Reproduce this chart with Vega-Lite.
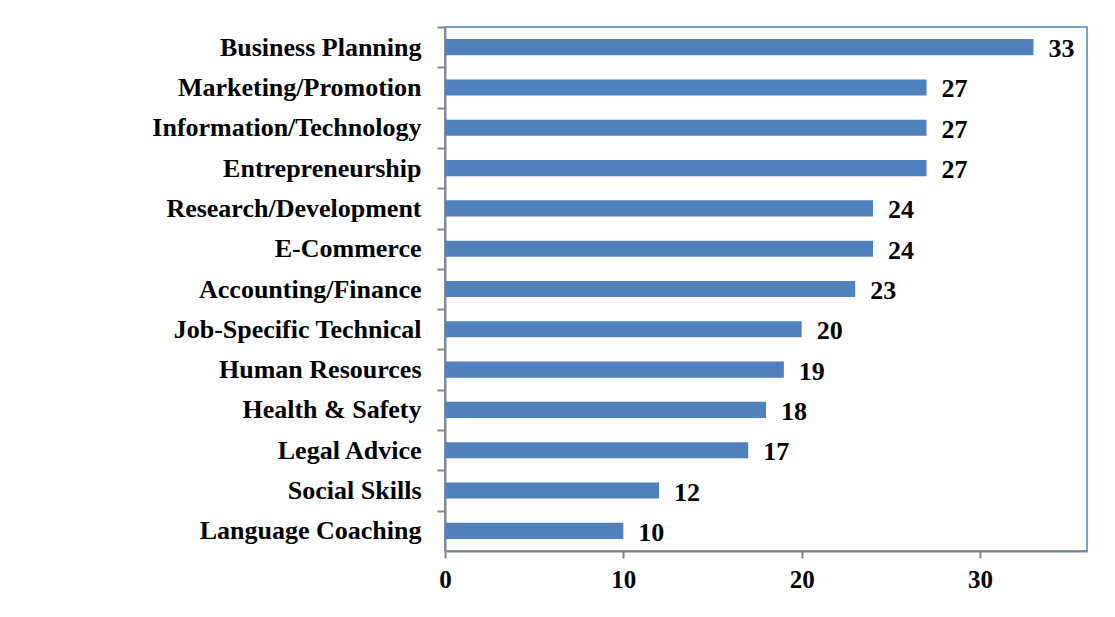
{
  "$schema": "https://vega.github.io/schema/vega-lite/v6.json",
  "autosize": "none",
  "padding": {"left": 445, "top": 27, "right": 28, "bottom": 66},
  "width": 642,
  "height": 524,
  "background": "white",
  "config": {
    "view": {"stroke": "#4F81BD", "strokeWidth": 1.5},
    "font": "Liberation Serif"
  },
  "data": {
    "values": [
      {"category": "Business Planning", "value": 33},
      {"category": "Marketing/Promotion", "value": 27},
      {"category": "Information/Technology", "value": 27},
      {"category": "Entrepreneurship", "value": 27},
      {"category": "Research/Development", "value": 24},
      {"category": "E-Commerce", "value": 24},
      {"category": "Accounting/Finance", "value": 23},
      {"category": "Job-Specific Technical", "value": 20},
      {"category": "Human Resources", "value": 19},
      {"category": "Health & Safety", "value": 18},
      {"category": "Legal Advice", "value": 17},
      {"category": "Social Skills", "value": 12},
      {"category": "Language Coaching", "value": 10}
    ]
  },
  "encoding": {
    "y": {
      "field": "category",
      "type": "nominal",
      "sort": null,
      "scale": {"paddingInner": 0.6, "paddingOuter": 0.3},
      "axis": {
        "title": null,
        "domainColor": "#868686",
        "domainWidth": 2,
        "tickColor": "#868686",
        "tickWidth": 2,
        "tickSize": 8,
        "tickOffset": -20.15,
        "labelOffset": 20.15,
        "labelFont": "Liberation Serif",
        "labelFontWeight": "bold",
        "labelFontSize": 26,
        "labelColor": "black",
        "labelPadding": 16,
        "labelLimit": 440
      }
    },
    "x": {
      "field": "value",
      "type": "quantitative",
      "scale": {"domain": [0, 36], "nice": false},
      "axis": {
        "title": null,
        "values": [0, 10, 20, 30],
        "grid": false,
        "domainColor": "#868686",
        "domainWidth": 2,
        "tickColor": "#868686",
        "tickWidth": 2,
        "tickSize": 7,
        "labelFont": "Liberation Serif",
        "labelFontWeight": "bold",
        "labelFontSize": 25,
        "labelColor": "black",
        "labelPadding": 9,
        "labelFlush": false
      }
    }
  },
  "layer": [
    {"mark": {"type": "bar", "color": "#4F81BD"}},
    {
      "mark": {
        "type": "text",
        "align": "left",
        "baseline": "middle",
        "dx": 15,
        "dy": 2,
        "font": "Liberation Serif",
        "fontWeight": "bold",
        "fontSize": 26,
        "color": "black"
      },
      "encoding": {"text": {"field": "value", "type": "quantitative"}}
    }
  ]
}
